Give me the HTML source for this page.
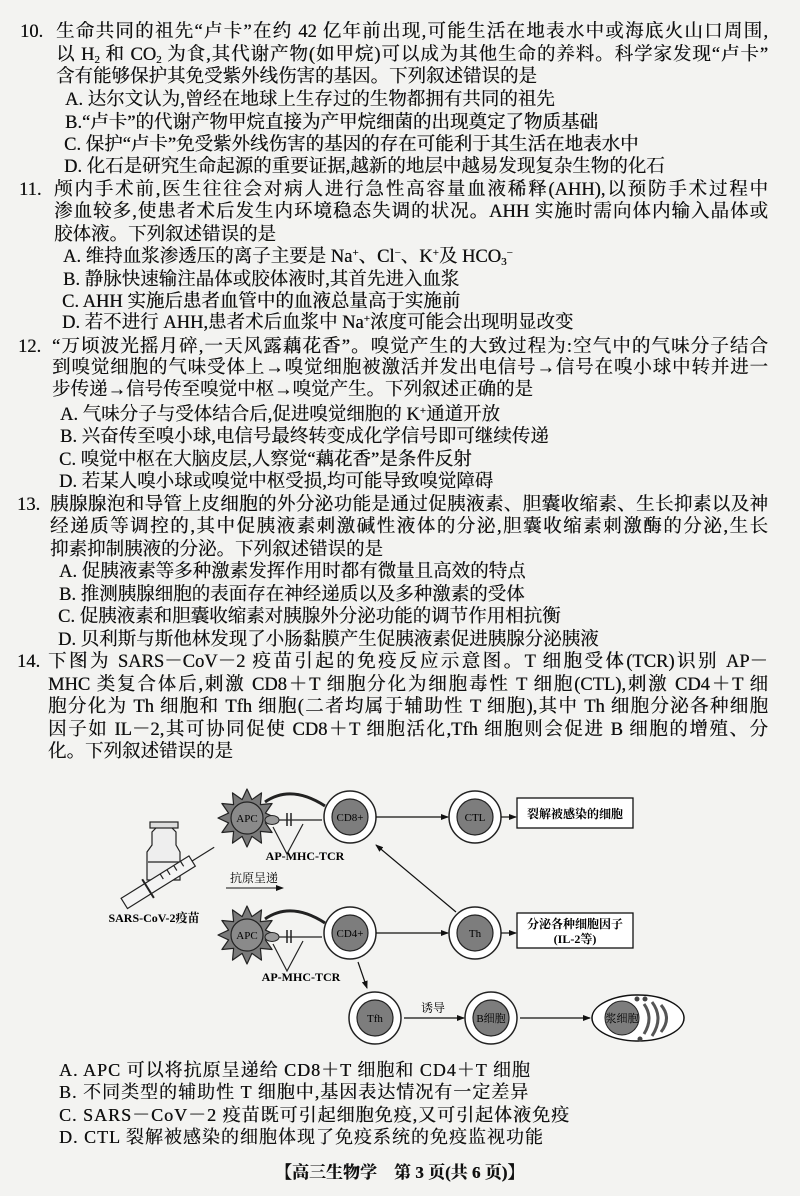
<!DOCTYPE html>
<html><head><meta charset="utf-8"><style>
html,body{margin:0;padding:0}
body{width:800px;height:1196px;position:relative;background:#f3f3f1;overflow:hidden;color:#111;font-family:"Liberation Serif","Noto Serif CJK SC",serif}
.l{position:absolute;height:22px;line-height:22px;font-size:18.5px;white-space:nowrap;text-shadow:0.3px 0 0 #111}
.j{text-align:justify;text-align-last:justify;white-space:normal;overflow:hidden}
.n{position:absolute;height:22px;line-height:22px;font-size:18.5px;text-shadow:0.3px 0 0 #111}
sub{font-size:11px;vertical-align:-3px;line-height:0}
sup{font-size:11px;vertical-align:6px;line-height:0}
svg text{font-family:"Liberation Serif","Noto Serif CJK SC",serif}
</style></head><body>

<div class="n" style="left:20px;top:21px">10.</div>
<div class="l j" style="left:56px;top:21px;width:712px">生命共同的祖先“卢卡”在约 42 亿年前出现,可能生活在地表水中或海底火山口周围,</div>
<div class="l j" style="left:56px;top:44px;width:712px">以 H<sub>2</sub> 和 CO<sub>2</sub> 为食,其代谢产物(如甲烷)可以成为其他生命的养料。科学家发现“卢卡”</div>
<div class="l" style="left:56px;top:66px">含有能够保护其免受紫外线伤害的基因。下列叙述错误的是</div>
<div class="l" style="left:65px;top:89px">A. 达尔文认为,曾经在地球上生存过的生物都拥有共同的祖先</div>
<div class="l" style="left:65px;top:112px">B.“卢卡”的代谢产物甲烷直接为产甲烷细菌的出现奠定了物质基础</div>
<div class="l" style="left:64px;top:134px">C. 保护“卢卡”免受紫外线伤害的基因的存在可能利于其生活在地表水中</div>
<div class="l" style="left:64px;top:156px">D. 化石是研究生命起源的重要证据,越新的地层中越易发现复杂生物的化石</div>

<div class="n" style="left:19px;top:179px">11.</div>
<div class="l j" style="left:54px;top:179px;width:714px">颅内手术前,医生往往会对病人进行急性高容量血液稀释(AHH),以预防手术过程中</div>
<div class="l j" style="left:54px;top:201px;width:714px">渗血较多,使患者术后发生内环境稳态失调的状况。AHH 实施时需向体内输入晶体或</div>
<div class="l" style="left:54px;top:224px">胶体液。下列叙述错误的是</div>
<div class="l" style="left:63px;top:246px">A. 维持血浆渗透压的离子主要是 Na<sup>+</sup>、Cl<sup>−</sup>、K<sup>+</sup>及 HCO<sub>3</sub><sup>−</sup></div>
<div class="l" style="left:63px;top:269px">B. 静脉快速输注晶体或胶体液时,其首先进入血浆</div>
<div class="l" style="left:62px;top:291px">C. AHH 实施后患者血管中的血液总量高于实施前</div>
<div class="l" style="left:62px;top:312px">D. 若不进行 AHH,患者术后血浆中 Na<sup>+</sup>浓度可能会出现明显改变</div>

<div class="n" style="left:18px;top:336px">12.</div>
<div class="l j" style="left:52px;top:336px;width:716px">“万顷波光摇月碎,一天风露藕花香”。嗅觉产生的大致过程为:空气中的气味分子结合</div>
<div class="l j" style="left:52px;top:357px;width:716px">到嗅觉细胞的气味受体上→嗅觉细胞被激活并发出电信号→信号在嗅小球中转并进一</div>
<div class="l" style="left:52px;top:379px">步传递→信号传至嗅觉中枢→嗅觉产生。下列叙述正确的是</div>
<div class="l" style="left:60px;top:404px">A. 气味分子与受体结合后,促进嗅觉细胞的 K<sup>+</sup>通道开放</div>
<div class="l" style="left:60px;top:426px">B. 兴奋传至嗅小球,电信号最终转变成化学信号即可继续传递</div>
<div class="l" style="left:59px;top:449px">C. 嗅觉中枢在大脑皮层,人察觉“藕花香”是条件反射</div>
<div class="l" style="left:59px;top:471px">D. 若某人嗅小球或嗅觉中枢受损,均可能导致嗅觉障碍</div>

<div class="n" style="left:17px;top:494px">13.</div>
<div class="l j" style="left:50px;top:494px;width:718px">胰腺腺泡和导管上皮细胞的外分泌功能是通过促胰液素、胆囊收缩素、生长抑素以及神</div>
<div class="l j" style="left:50px;top:516px;width:718px">经递质等调控的,其中促胰液素刺激碱性液体的分泌,胆囊收缩素刺激酶的分泌,生长</div>
<div class="l" style="left:50px;top:539px">抑素抑制胰液的分泌。下列叙述错误的是</div>
<div class="l" style="left:59px;top:561px">A. 促胰液素等多种激素发挥作用时都有微量且高效的特点</div>
<div class="l" style="left:59px;top:584px">B. 推测胰腺细胞的表面存在神经递质以及多种激素的受体</div>
<div class="l" style="left:58px;top:606px">C. 促胰液素和胆囊收缩素对胰腺外分泌功能的调节作用相抗衡</div>
<div class="l" style="left:58px;top:629px">D. 贝利斯与斯他林发现了小肠黏膜产生促胰液素促进胰腺分泌胰液</div>

<div class="n" style="left:17px;top:651px">14.</div>
<div class="l j" style="left:48px;top:651px;width:720px">下图为 SARS－CoV－2 疫苗引起的免疫反应示意图。T 细胞受体(TCR)识别 AP－</div>
<div class="l j" style="left:48px;top:674px;width:720px">MHC 类复合体后,刺激 CD8＋T 细胞分化为细胞毒性 T 细胞(CTL),刺激 CD4＋T 细</div>
<div class="l j" style="left:48px;top:696px;width:720px">胞分化为 Th 细胞和 Tfh 细胞(二者均属于辅助性 T 细胞),其中 Th 细胞分泌各种细胞</div>
<div class="l j" style="left:48px;top:719px;width:720px">因子如 IL－2,其可协同促使 CD8＋T 细胞活化,Tfh 细胞则会促进 B 细胞的增殖、分</div>
<div class="l" style="left:48px;top:741px">化。下列叙述错误的是</div>

<svg style="position:absolute;left:0;top:0" width="800" height="1196" viewBox="0 0 800 1196">
<defs>
<marker id="ar" markerWidth="8" markerHeight="8" refX="7" refY="4" orient="auto" markerUnits="userSpaceOnUse"><path d="M0,1 L8,4 L0,7 Z" fill="#111"/></marker>
<g id="apc">
<polygon points="29,0 18.4,4.9 25.1,14.5 13.4,13.4 14.5,25.1 4.9,18.4 0,29 -4.9,18.4 -14.5,25.1 -13.4,13.4 -25.1,14.5 -18.4,4.9 -29,0 -18.4,-4.9 -25.1,-14.5 -13.4,-13.4 -14.5,-25.1 -4.9,-18.4 0,-29 4.9,-18.4 14.5,-25.1 13.4,-13.4 25.1,-14.5 18.4,-4.9" fill="#7a7a7a" stroke="#222" stroke-width="1.2" stroke-linejoin="round"/>
<circle r="16" fill="#8a8a8a" stroke="#222" stroke-width="1.2"/>
<ellipse cx="25" cy="2" rx="7" ry="4.5" fill="#999" stroke="#222"/>
<line x1="32" y1="2" x2="75" y2="2" stroke="#222" stroke-width="1.2"/>
<line x1="40" y1="-5" x2="40" y2="8" stroke="#222" stroke-width="1.5"/>
<line x1="44" y1="-5" x2="44" y2="8" stroke="#222" stroke-width="1.5"/>
<polyline points="26,9 40,36 56,6" fill="none" stroke="#222" stroke-width="1.2"/>
<path d="M18,-16 Q44,-34 78,-12" fill="none" stroke="#222" stroke-width="3"/>
</g>
<g id="tc"><circle r="26" fill="#fff" stroke="#222" stroke-width="1.5"/><circle r="18" fill="#7d7d7d" stroke="#222" stroke-width="1.2"/></g>
</defs>
<g stroke="#222" stroke-width="1.2" fill="#eee">
<path d="M152,845 L152,832 L157,827 L171,827 L176,832 L176,845 L180,852 L180,880 L147,880 L147,852 Z"/>
<rect x="150" y="822" width="28" height="6" fill="#ddd"/>
<line x1="148" y1="862" x2="179" y2="862"/>
<g transform="translate(165,878) rotate(-32)">
<rect x="-48" y="-6" width="80" height="12" fill="#f4f4f4"/>
<line x1="32" y1="0" x2="58" y2="0"/>
<line x1="-20" y1="-11" x2="-20" y2="11" stroke-width="2"/>
<line x1="-2" y1="-6" x2="-2" y2="0"/><line x1="6" y1="-6" x2="6" y2="0"/><line x1="14" y1="-6" x2="14" y2="0"/><line x1="22" y1="-6" x2="22" y2="0"/>
</g>
</g>
<text x="154" y="922" font-size="12" text-anchor="middle" font-weight="bold">SARS-CoV-2疫苗</text>
<text x="254" y="882" font-size="12" text-anchor="middle">抗原呈递</text>
<line x1="226" y1="888" x2="283" y2="888" stroke="#111" marker-end="url(#ar)"/>

<use href="#apc" x="247" y="818"/>
<use href="#apc" x="247" y="935"/>
<text x="247" y="822" font-size="11" text-anchor="middle">APC</text>
<text x="247" y="939" font-size="11" text-anchor="middle">APC</text>
<text x="305" y="860" font-size="12" text-anchor="middle" font-weight="bold">AP-MHC-TCR</text>
<text x="301" y="981" font-size="12" text-anchor="middle" font-weight="bold">AP-MHC-TCR</text>

<use href="#tc" x="350" y="817"/><text x="350" y="821" font-size="11" text-anchor="middle">CD8+</text>
<use href="#tc" x="350" y="933"/><text x="350" y="937" font-size="11" text-anchor="middle">CD4+</text>
<use href="#tc" x="475" y="817"/><text x="475" y="821" font-size="11" text-anchor="middle">CTL</text>
<use href="#tc" x="475" y="933"/><text x="475" y="937" font-size="11" text-anchor="middle">Th</text>
<use href="#tc" x="375" y="1018"/><text x="375" y="1022" font-size="11" text-anchor="middle">Tfh</text>
<use href="#tc" x="491" y="1018"/><text x="491" y="1022" font-size="11" text-anchor="middle">B细胞</text>

<g stroke="#111" stroke-width="1.2" fill="none">
<line x1="376" y1="817" x2="448" y2="817" marker-end="url(#ar)"/>
<line x1="376" y1="933" x2="448" y2="933" marker-end="url(#ar)"/>
<line x1="501" y1="817" x2="516" y2="817" marker-end="url(#ar)"/>
<line x1="501" y1="933" x2="516" y2="933" marker-end="url(#ar)"/>
<line x1="456" y1="912" x2="376" y2="845" marker-end="url(#ar)"/>
<line x1="358" y1="962" x2="367" y2="988" marker-end="url(#ar)"/>
<line x1="404" y1="1018" x2="464" y2="1018" marker-end="url(#ar)"/>
<line x1="520" y1="1018" x2="590" y2="1018" marker-end="url(#ar)"/>
</g>
<text x="433" y="1012" font-size="12" text-anchor="middle">诱导</text>
<rect x="517" y="798" width="116" height="30" fill="#fff" stroke="#111" stroke-width="1.3"/>
<text x="575" y="818" font-size="12" text-anchor="middle" font-weight="bold">裂解被感染的细胞</text>
<rect x="517" y="913" width="116" height="35" fill="#fff" stroke="#111" stroke-width="1.3"/>
<text x="575" y="928" font-size="12" text-anchor="middle" font-weight="bold">分泌各种细胞因子</text>
<text x="575" y="943" font-size="12" text-anchor="middle" font-weight="bold">(IL-2等)</text>

<ellipse cx="638" cy="1018" rx="46" ry="23" fill="#fff" stroke="#111" stroke-width="1.5"/>
<circle cx="622" cy="1018" r="17" fill="#7d7d7d" stroke="#222"/>
<text x="622" y="1022" font-size="11" text-anchor="middle">浆细胞</text>
<g fill="none" stroke="#555" stroke-width="3">
<path d="M644,1004 Q654,1018 644,1034"/><path d="M652,1002 Q664,1018 652,1036"/><path d="M661,1005 Q672,1018 661,1032"/>
</g>
<circle cx="637" cy="999" r="2.5" fill="#444"/><circle cx="645" cy="999" r="2.5" fill="#444"/><circle cx="640" cy="1039" r="2.5" fill="#444"/>
</svg>

<div class="l" style="left:59px;top:1059px;font-size:18px;letter-spacing:1px">A. APC 可以将抗原呈递给 CD8＋T 细胞和 CD4＋T 细胞</div>
<div class="l" style="left:59px;top:1081px;font-size:18px;letter-spacing:1px">B. 不同类型的辅助性 T 细胞中,基因表达情况有一定差异</div>
<div class="l" style="left:59px;top:1104px;font-size:18px;letter-spacing:1px">C. SARS－CoV－2 疫苗既可引起细胞免疫,又可引起体液免疫</div>
<div class="l" style="left:59px;top:1126px;font-size:18px;letter-spacing:1px">D. CTL 裂解被感染的细胞体现了免疫系统的免疫监视功能</div>
<div class="l" style="left:275px;top:1162px;font-size:17px;font-weight:bold">【高三生物学　第 3 页(共 6 页)】</div>
</body></html>
